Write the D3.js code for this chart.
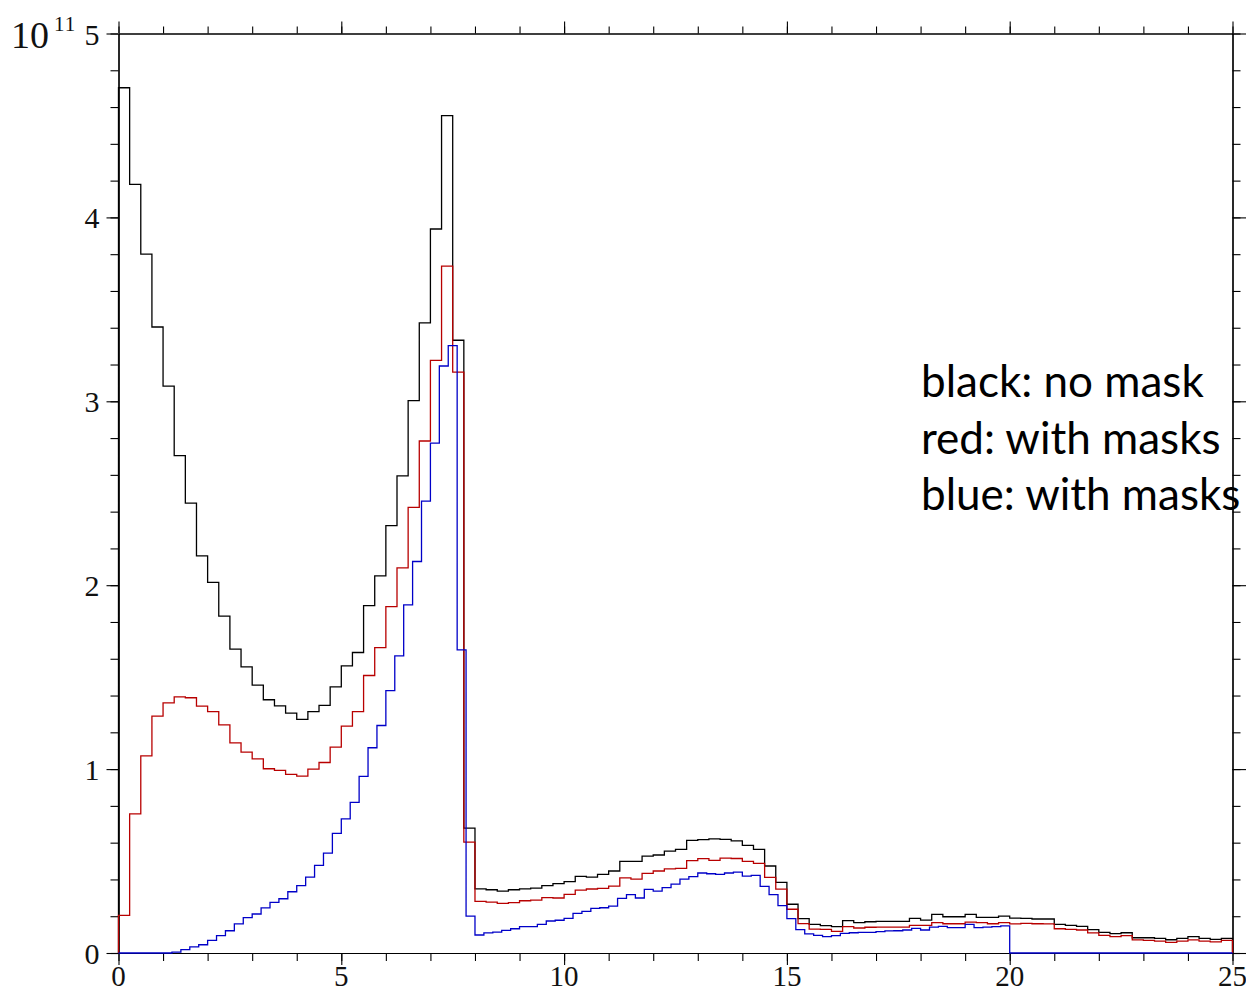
<!DOCTYPE html>
<html>
<head>
<meta charset="utf-8">
<script src="https://cdn.jsdelivr.net/npm/d3@7"></script>
<style>
  html, body { margin: 0; padding: 0; background: #fff; }
  svg { display: block; }
</style>
</head>
<body>
<svg id="chart" width="1246" height="993"></svg>
<script>
// ---- data (values in units of 1e11) ----
const xDomain = [0, 25];
const yDomain = [0, 5];
const xMajorTicks = [0, 5, 10, 15, 20, 25];
const yMajorTicks = [0, 1, 2, 3, 4, 5];
const yExponentLabel = "10";
const yExponentPower = "11";

// black: no mask (bin width 0.25)
const blackBinWidth = 0.25;
const blackValues = [
  4.705, 4.18, 3.80, 3.404, 3.083, 2.705, 2.446, 2.159, 2.015, 1.832,
  1.652, 1.556, 1.457, 1.377, 1.344, 1.304, 1.270, 1.312, 1.346, 1.447,
  1.561, 1.634, 1.889, 2.051, 2.324, 2.594, 3.004, 3.426, 3.937, 4.553,
  3.332, 0.679, 0.349, 0.344, 0.337, 0.344, 0.349, 0.353, 0.366, 0.377,
  0.388, 0.417, 0.413, 0.428, 0.446, 0.498, 0.498, 0.527, 0.533, 0.554,
  0.563, 0.612, 0.616, 0.621, 0.618, 0.610, 0.585, 0.563, 0.473, 0.384,
  0.265, 0.187, 0.156, 0.149, 0.143, 0.176, 0.165, 0.170, 0.172, 0.172,
  0.172, 0.188, 0.179, 0.210, 0.197, 0.197, 0.210, 0.194, 0.194, 0.201,
  0.190, 0.188, 0.185, 0.185, 0.156, 0.150, 0.145, 0.127, 0.112, 0.105,
  0.110, 0.083, 0.083, 0.080, 0.072, 0.080, 0.089, 0.080, 0.074, 0.080
];

// red: with masks (bin width 0.25)
const redBinWidth = 0.25;
const redValues = [
  0.205, 0.757, 1.072, 1.288, 1.360, 1.393, 1.388, 1.342, 1.313, 1.241,
  1.143, 1.092, 1.056, 1.002, 0.993, 0.971, 0.962, 1.000, 1.036, 1.120,
  1.234, 1.313, 1.509, 1.661, 1.884, 2.094, 2.423, 2.784, 3.223, 3.735,
  3.159, 0.603, 0.281, 0.277, 0.270, 0.274, 0.284, 0.288, 0.301, 0.299,
  0.319, 0.342, 0.348, 0.351, 0.364, 0.409, 0.402, 0.433, 0.446, 0.457,
  0.460, 0.502, 0.513, 0.504, 0.516, 0.514, 0.498, 0.487, 0.411, 0.347,
  0.238, 0.160, 0.130, 0.129, 0.118, 0.143, 0.136, 0.140, 0.141, 0.141,
  0.141, 0.150, 0.150, 0.165, 0.159, 0.159, 0.168, 0.165, 0.159, 0.165,
  0.158, 0.161, 0.159, 0.158, 0.132, 0.129, 0.125, 0.109, 0.096, 0.089,
  0.094, 0.071, 0.069, 0.065, 0.058, 0.065, 0.071, 0.065, 0.060, 0.069
];

// blue: with masks (bin width 0.2)
const blueBinWidth = 0.2;
const blueValues = [
  0, 0, 0, 0, 0, 0, 0.005, 0.018, 0.033, 0.045,
  0.069, 0.094, 0.121, 0.158, 0.192, 0.212, 0.245, 0.275, 0.295, 0.333,
  0.366, 0.413, 0.476, 0.543, 0.650, 0.729, 0.819, 0.960, 1.116, 1.237,
  1.427, 1.616, 1.893, 2.129, 2.457, 2.773, 3.192, 3.303, 1.648, 0.200,
  0.098, 0.109, 0.114, 0.123, 0.132, 0.143, 0.143, 0.156, 0.174, 0.178,
  0.188, 0.216, 0.226, 0.243, 0.246, 0.255, 0.297, 0.317, 0.299, 0.346,
  0.337, 0.355, 0.375, 0.402, 0.415, 0.435, 0.431, 0.428, 0.435, 0.440,
  0.418, 0.422, 0.362, 0.317, 0.258, 0.187, 0.127, 0.104, 0.096, 0.089,
  0.094, 0.107, 0.110, 0.112, 0.112, 0.116, 0.120, 0.121, 0.125, 0.134,
  0.125, 0.141, 0.145, 0.138, 0.138, 0.156, 0.138, 0.141, 0.143, 0.148,
  0, 0, 0, 0, 0, 0, 0, 0, 0, 0,
  0, 0, 0, 0, 0, 0, 0, 0, 0, 0,
  0, 0, 0, 0, 0
];

const legendLines = ["black: no mask", "red: with masks", "blue: with masks"];

// ---- layout ----
const svg = d3.select("#chart");
const plotLeft = 118.5, plotRight = 1232.5, plotTop = 33.5, plotBottom = 953;

const x = d3.scaleLinear().domain(xDomain).range([plotLeft, plotRight]);
const y = d3.scaleLinear().domain(yDomain).range([plotBottom, plotTop]);

const xMinor = d3.range(0, 25.001, 1);
const yMinor = d3.range(0, 5.001, 0.2).map(v => +v.toFixed(2));

function drawAxis(axisGen, transform) {
  const g = svg.append("g").attr("transform", transform).call(axisGen);
  g.selectAll("text").remove();
  g.select(".domain").attr("stroke", "#000").attr("stroke-width", 1.2);
  g.selectAll(".tick line").attr("stroke", "#000").attr("stroke-width", 1.1);
  return g;
}

// minor ticks (outward)
drawAxis(d3.axisBottom(x).tickValues(xMinor).tickSize(8).tickSizeOuter(0).tickFormat(""), `translate(0,${plotBottom})`);
drawAxis(d3.axisTop(x).tickValues(xMinor).tickSize(7).tickSizeOuter(0).tickFormat(""), `translate(0,${plotTop})`);
drawAxis(d3.axisLeft(y).tickValues(yMinor).tickSize(8).tickSizeOuter(0).tickFormat(""), `translate(${plotLeft},0)`);
drawAxis(d3.axisRight(y).tickValues(yMinor).tickSize(8).tickSizeOuter(0).tickFormat(""), `translate(${plotRight},0)`);
// major ticks (outward, longer)
drawAxis(d3.axisBottom(x).tickValues(xMajorTicks).tickSize(12).tickSizeOuter(0).tickFormat(""), `translate(0,${plotBottom})`);
drawAxis(d3.axisTop(x).tickValues(xMajorTicks).tickSize(12).tickSizeOuter(0).tickFormat(""), `translate(0,${plotTop})`);
drawAxis(d3.axisLeft(y).tickValues(yMajorTicks).tickSize(12).tickSizeOuter(0).tickFormat(""), `translate(${plotLeft},0)`);
drawAxis(d3.axisRight(y).tickValues(yMajorTicks).tickSize(14).tickSizeOuter(0).tickFormat(""), `translate(${plotRight},0)`);

const labelFont = "'Liberation Serif', 'DejaVu Serif', serif";

// x tick labels
svg.append("g").selectAll("text").data(xMajorTicks).join("text")
  .attr("x", d => x(d)).attr("y", plotBottom + 33)
  .attr("text-anchor", "middle")
  .attr("font-family", labelFont).attr("font-size", 29).attr("fill", "#111")
  .text(d => d);

// y tick labels
svg.append("g").selectAll("text").data(yMajorTicks).join("text")
  .attr("x", plotLeft - 19).attr("y", d => y(d) + 11)
  .attr("text-anchor", "end")
  .attr("font-family", labelFont).attr("font-size", 30).attr("fill", "#111")
  .text(d => d);

// exponent label 10^11
const expT = svg.append("text")
  .attr("x", 11).attr("y", 48)
  .attr("font-family", labelFont).attr("font-size", 38).attr("fill", "#111");
expT.append("tspan").text(yExponentLabel);
expT.append("tspan").attr("dx", 5).attr("dy", -17).attr("font-size", 21).attr("letter-spacing", 1).text(yExponentPower);

// ---- histograms ----
const lineStraight = d3.line().x(d => x(d[0])).y(d => y(d[1]));

function histPath(values, width) {
  const pts = [[0, 0]];
  values.forEach((v, i) => {
    pts.push([i * width, v]);
    pts.push([(i + 1) * width, v]);
  });
  pts.push([values.length * width, 0]);
  return lineStraight(pts);
}

const series = [
  { values: blackValues, width: blackBinWidth, color: "#000000" },
  { values: redValues, width: redBinWidth, color: "#b80000" },
  { values: blueValues, width: blueBinWidth, color: "#0000c8" }
];

svg.append("g").selectAll("path").data(series).join("path")
  .attr("d", d => histPath(d.values, d.width))
  .attr("fill", "none")
  .attr("stroke", d => d.color)
  .attr("stroke-width", 1.3)
  .attr("stroke-linejoin", "miter");

// ---- legend text ----
svg.append("g").selectAll("text").data(legendLines).join("text")
  .attr("x", 921).attr("y", (d, i) => 397 + i * 56.7)
  .attr("font-family", "Lato, 'Open Sans', sans-serif")
  .attr("font-size", 44).attr("fill", "#000")
  .text(d => d);
</script>
</body>
</html>
